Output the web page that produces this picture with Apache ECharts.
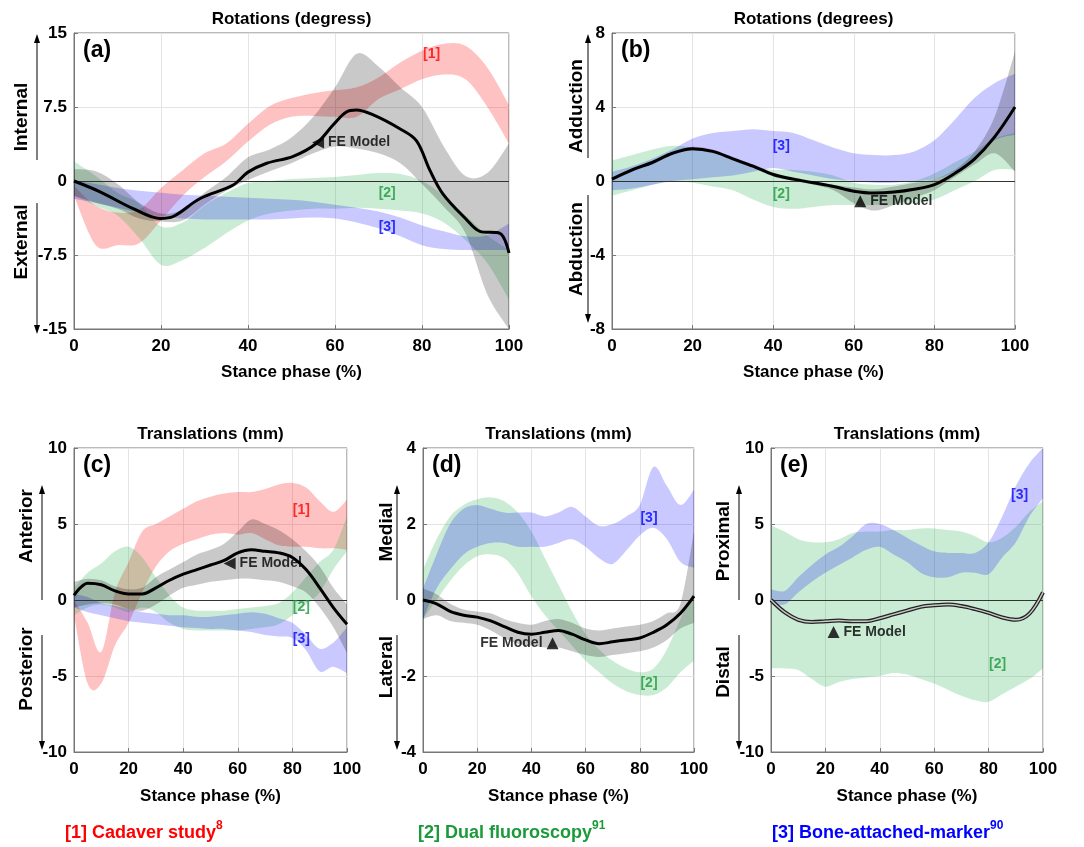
<!DOCTYPE html>
<html>
<head>
<meta charset="utf-8">
<script src="https://cdn.jsdelivr.net/npm/echarts@6/dist/echarts.min.js"></script>
<style>
  html, body { margin: 0; padding: 0; background: #fff; }
  #chart { width: 1084px; height: 847px; }
</style>
</head>
<body>
<div id="chart"></div>
<script>
const FONT = '"Liberation Sans", Arial, Helvetica, sans-serif';

// stance phase samples shared by the bands
const X = [0, 5, 10, 15, 20, 25, 30, 35, 40, 45, 50, 55, 60, 65, 70, 75, 80, 85, 90, 95, 100];

// (a) internal / external rotation
const A_RED_LO = [-1.5, -6.5, -6.5, -6.3, -4.0, -1.5, 0.4, 2.0, 4.0, 5.7, 6.5, 6.6, 6.5, 6.5, 8.3, 9.3, 10.3, 10.8, 10.3, 7.5, 3.8];
const A_RED_HI = [-0.5, -2.5, -3.2, -2.9, -0.7, 1.1, 2.8, 3.8, 5.8, 7.6, 8.4, 8.9, 9.2, 9.5, 10.5, 12.0, 13.2, 13.9, 13.7, 11.5, 7.7];
const A_GRN_LO = [-1.5, -2.5, -3.5, -5.8, -8.5, -8.0, -6.8, -5.3, -4.0, -3.3, -3.0, -2.8, -2.8, -2.7, -2.8, -3.0, -3.3, -4.2, -6.0, -8.3, -12.0];
const A_GRN_HI = [2.0, 0.5, -1.2, -2.3, -4.6, -4.2, -2.5, -1.2, -0.2, 0.0, 0.2, 0.3, 0.4, 0.6, 0.8, 0.7, 0.0, -1.5, -3.5, -5.5, -7.0];
const A_BLU_LO = [-1.8, -2.2, -2.7, -3.2, -3.6, -3.8, -3.9, -3.9, -3.9, -3.9, -3.8, -3.7, -3.8, -4.2, -4.8, -5.6, -6.5, -6.9, -7.0, -7.0, -7.0];
const A_BLU_HI = [0.1, -0.3, -0.7, -1.0, -1.2, -1.4, -1.5, -1.6, -1.7, -1.8, -1.9, -2.1, -2.4, -2.7, -3.1, -3.7, -4.5, -5.1, -5.6, -5.5, -4.3];
const A_FE_LO = [-1.5, -2.2, -2.8, -3.8, -4.1, -4.0, -2.4, -1.0, 0.1, 1.0, 1.8, 2.8, 3.5, 3.3, 2.8, 1.8, -0.3, -2.6, -5.3, -11.5, -15.0];
const A_FE_HI = [1.2, 1.0, -0.3, -2.2, -3.3, -2.9, -1.2, 0.4, 2.4, 3.2, 4.4, 6.5, 9.5, 12.9, 11.6, 9.5, 7.5, 3.5, 0.5, 0.8, 3.8];
const A_FE_X = [0, 6, 13.6, 19.8, 22.8, 28.9, 36.6, 40, 44.3, 50.4, 55.7, 59.6, 62.6, 64.9, 68.8, 74.9, 78.7, 81.8, 84.8, 90.2, 93.3, 97.9, 100];
const A_FE = [0, -1.1, -2.8, -3.8, -3.6, -1.8, -0.4, 0.9, 1.8, 2.5, 3.8, 5.7, 7.0, 7.2, 6.7, 5.3, 4.1, 1.1, -1.3, -3.9, -5.1, -5.3, -7.3];

// (b) adduction / abduction
const B_GRN_LO = [-0.8, -0.5, -0.2, 0.0, -0.1, -0.3, -0.5, -1.0, -1.4, -1.5, -1.4, -1.3, -1.3, -1.3, -1.3, -1.2, -1.0, -0.5, 0.0, 0.6, 0.6];
const B_GRN_HI = [1.1, 1.4, 1.7, 1.9, 1.8, 1.5, 1.1, 0.8, 0.6, 0.6, 0.5, 0.3, -0.1, -0.2, -0.2, 0.0, 0.4, 1.0, 1.6, 2.3, 2.6];
const B_BLU_LO = [-0.5, -0.4, -0.2, 0.0, 0.1, 0.2, 0.3, 0.5, 0.7, 0.5, 0.3, 0.1, 0.0, -0.1, -0.1, 0.0, 0.1, 0.5, 1.2, 2.2, 2.5];
const B_BLU_HI = [0.5, 0.8, 1.2, 1.7, 2.3, 2.6, 2.7, 2.8, 2.7, 2.6, 2.2, 1.8, 1.5, 1.4, 1.4, 1.6, 2.2, 3.3, 4.5, 5.3, 5.8];
const B_FE_LO = [0.0, 0.5, 0.9, 1.4, 1.65, 1.5, 1.1, 0.7, 0.25, 0.0, -0.2, -0.5, -1.2, -1.6, -1.3, -0.9, -0.5, 0.2, 0.9, 1.5, 0.5];
const B_FE_HI = [0.2, 0.7, 1.1, 1.6, 1.85, 1.7, 1.3, 0.9, 0.45, 0.2, 0.0, -0.2, -0.35, -0.45, -0.3, -0.1, 0.1, 0.6, 1.6, 3.5, 7.0];
const B_FE = [0.1, 0.6, 1.0, 1.5, 1.75, 1.6, 1.2, 0.8, 0.35, 0.1, -0.1, -0.3, -0.55, -0.65, -0.6, -0.45, -0.2, 0.4, 1.2, 2.4, 4.0];

// (c) anterior / posterior translation
const C_RED_LO = [-1.0, -5.5, -5.5, -3.0, -1.5, 0.5, 2.2, 3.2, 3.7, 4.0, 4.3, 4.4, 4.3, 4.4, 4.0, 3.6, 3.5, 3.5, 3.4, 3.4, 3.3];
const C_RED_HI = [0.0, -1.5, -3.4, 0.5, 2.5, 4.5, 5.0, 5.5, 6.0, 6.5, 6.8, 7.0, 7.1, 7.1, 7.3, 7.6, 7.7, 7.4, 6.5, 5.8, 6.6];
const C_GRN_LO = [-1.0, -0.5, -0.3, -0.5, -0.8, -0.5, -0.8, -1.5, -1.9, -2.0, -2.0, -2.0, -2.0, -1.9, -1.8, -1.6, -1.0, -0.3, 0.5, 2.0, 3.2];
const C_GRN_HI = [0.8, 1.8, 2.4, 3.2, 3.5, 2.8, 1.5, 0.3, -0.5, -0.7, -0.7, -0.7, -0.6, -0.5, -0.4, -0.2, 0.5, 1.5, 2.5, 3.3, 5.5];
const C_BLU_LO = [-0.5, -0.8, -1.0, -1.2, -1.4, -1.5, -1.6, -1.7, -1.8, -1.85, -1.9, -1.9, -2.0, -2.1, -2.3, -2.4, -2.5, -3.3, -4.7, -4.4, -4.8];
const C_BLU_HI = [0.4, 0.2, -0.2, -0.4, -0.6, -0.8, -0.9, -1.0, -1.0, -1.1, -1.1, -1.0, -0.9, -0.8, -0.9, -1.2, -1.5, -2.3, -3.2, -2.8, -1.8];
const C_FE_LO = [-0.5, -0.3, -0.2, -0.3, -0.6, -0.7, -0.3, 0.3, 0.8, 1.0, 1.2, 1.3, 1.4, 1.4, 1.3, 1.2, 0.9, 0.5, -0.5, -1.8, -3.5];
const C_FE_HI = [1.2, 1.4, 1.3, 0.9, 0.7, 0.8, 1.5, 2.0, 2.5, 3.0, 3.3, 3.7, 4.5, 5.3, 5.0, 4.6, 4.0, 3.2, 2.2, 0.8, -0.3];
const C_FE = [0.3, 1.1, 1.0, 0.6, 0.4, 0.4, 0.8, 1.3, 1.7, 2.0, 2.3, 2.6, 3.1, 3.3, 3.2, 3.1, 2.8, 2.0, 0.8, -0.5, -1.6];

// (d) medial / lateral translation
const D_GRN_LO = [-0.5, 0.0, 0.5, 0.9, 1.15, 1.2, 1.1, 0.7, 0.1, -0.4, -0.8, -1.2, -1.6, -1.9, -2.2, -2.4, -2.5, -2.5, -2.3, -1.9, -1.6];
const D_GRN_HI = [0.8, 1.6, 2.2, 2.5, 2.65, 2.7, 2.6, 2.3, 1.8, 1.1, 0.4, -0.3, -0.9, -1.3, -1.6, -1.8, -1.9, -1.8, -1.3, -0.5, 0.2];
const D_BLU_LO = [-0.5, 0.3, 0.8, 1.2, 1.4, 1.5, 1.5, 1.4, 1.4, 1.4, 1.5, 1.6, 1.4, 1.1, 0.95, 1.3, 1.7, 1.9, 1.6, 1.0, 0.85];
const D_BLU_HI = [0.3, 1.2, 2.0, 2.4, 2.5, 2.4, 2.3, 2.3, 2.3, 2.2, 2.3, 2.45, 2.2, 1.95, 2.0, 2.2, 2.5, 3.5, 3.0, 2.5, 2.9];
const D_FE_LO = [-0.5, -0.4, -0.55, -0.6, -0.65, -0.8, -1.0, -1.15, -1.2, -1.25, -1.25, -1.35, -1.45, -1.5, -1.45, -1.4, -1.35, -1.25, -1.05, -0.75, -0.6];
const D_FE_HI = [0.3, 0.15, -0.1, -0.25, -0.3, -0.35, -0.5, -0.6, -0.65, -0.55, -0.5, -0.6, -0.75, -0.8, -0.75, -0.7, -0.65, -0.55, -0.35, -0.1, 1.8];
const D_FE = [0.0, -0.1, -0.3, -0.4, -0.45, -0.55, -0.7, -0.85, -0.9, -0.85, -0.8, -0.9, -1.05, -1.15, -1.1, -1.05, -1.0, -0.85, -0.65, -0.35, 0.1];

// (e) proximal / distal translation
const E_GRN_LO = [-4.5, -4.5, -4.6, -5.2, -5.7, -5.4, -5.2, -5.1, -5.0, -4.8, -4.9, -5.2, -5.5, -5.9, -6.3, -6.6, -6.7, -6.2, -5.7, -5.2, -4.5];
const E_GRN_HI = [4.9, 4.5, 4.0, 3.8, 3.8, 4.0, 4.4, 4.5, 4.5, 4.6, 4.6, 4.7, 4.7, 4.6, 4.5, 4.2, 3.8, 4.1, 4.8, 5.8, 6.5];
const E_BLU_LO = [-0.2, -0.3, 0.5, 1.2, 1.8, 2.3, 2.8, 3.3, 3.5, 3.0, 2.5, 1.8, 1.5, 1.5, 1.8, 1.8, 1.7, 2.8, 3.8, 5.5, 6.7];
const E_BLU_HI = [0.7, 0.6, 1.5, 2.3, 3.0, 3.5, 4.2, 5.0, 5.0, 4.6, 4.1, 3.6, 3.2, 3.1, 3.1, 3.1, 3.8, 5.5, 7.5, 9.0, 10.0];
const E_FE = [0.0, -0.8, -1.3, -1.45, -1.4, -1.35, -1.4, -1.4, -1.2, -0.95, -0.7, -0.45, -0.35, -0.3, -0.4, -0.6, -0.85, -1.15, -1.3, -0.9, 0.5];

const RED = 'rgba(255,0,0,0.24)';
const GRN = 'rgba(20,170,60,0.22)';
const BLU = 'rgba(0,0,255,0.21)';
const GRY = 'rgba(0,0,0,0.21)';

const grids = [
  { left: 74, top: 33, width: 435, height: 296 },
  { left: 612, top: 33, width: 403, height: 296 },
  { left: 74, top: 448, width: 273, height: 304 },
  { left: 423, top: 448, width: 271, height: 304 },
  { left: 771, top: 448, width: 272, height: 304 }
];
const yRanges = [[-15, 15, 7.5], [-8, 8, 4], [-10, 10, 5], [-4, 4, 2], [-10, 10, 5]];
const titles = ['Rotations (degress)', 'Rotations (degrees)', 'Translations (mm)', 'Translations (mm)', 'Translations (mm)'];
const letters = ['(a)', '(b)', '(c)', '(d)', '(e)'];

// catmull-rom through pixel points, as bezier path commands
function curve(p, first) {
  let d = first ? 'M' + p[0][0] + ' ' + p[0][1] : 'L' + p[0][0] + ' ' + p[0][1];
  for (let i = 0; i < p.length - 1; i++) {
    const a = p[Math.max(i - 1, 0)], b = p[i], c = p[i + 1], e = p[Math.min(i + 2, p.length - 1)];
    const c1 = [b[0] + (c[0] - a[0]) / 6, b[1] + (c[1] - a[1]) / 6];
    const c2 = [c[0] - (e[0] - b[0]) / 6, c[1] - (e[1] - b[1]) / 6];
    d += ' C' + c1[0] + ' ' + c1[1] + ' ' + c2[0] + ' ' + c2[1] + ' ' + c[0] + ' ' + c[1];
  }
  return d;
}

function band(gi, lo, hi, color) {
  return {
    type: 'custom', xAxisIndex: gi, yAxisIndex: gi, clip: true, silent: true,
    data: X.map((x, i) => [x, lo[i], hi[i]]),
    renderItem: function (params, api) {
      if (params.dataIndex !== 0) return;
      const top = X.map((x, i) => api.coord([x, hi[i]]));
      const bot = X.map((x, i) => api.coord([x, lo[i]])).reverse();
      return { type: 'path', shape: { pathData: curve(top, true) + ' ' + curve(bot, false) + ' Z' },
        style: { fill: color, stroke: null } };
    }
  };
}
function meanLine(gi, xs, ys, extra) {
  return Object.assign({
    type: 'line', xAxisIndex: gi, yAxisIndex: gi, data: xs.map((x, i) => [x, ys[i]]),
    symbol: 'none', smooth: 0.35, silent: true, z: 5,
    lineStyle: { color: '#000', width: 3 }
  }, extra || {});
}
function zeroLine(gi) {
  return {
    type: 'line', xAxisIndex: gi, yAxisIndex: gi, data: [], silent: true, z: 4,
    markLine: { silent: true, symbol: 'none', label: { show: false },
      lineStyle: { color: '#333', width: 1.2, type: 'solid' }, data: [{ yAxis: 0 }] }
  };
}
function tag(gi, pt, text, color) {
  return {
    type: 'scatter', xAxisIndex: gi, yAxisIndex: gi, data: [pt], symbolSize: 0, silent: true, z: 6,
    label: { show: true, position: 'inside', formatter: text, color: color,
      fontFamily: FONT, fontSize: 14, fontWeight: 'bold' }
  };
}
function feTag(gi, pt, rot, pos) {
  return {
    type: 'scatter', xAxisIndex: gi, yAxisIndex: gi, data: [pt], symbol: 'triangle',
    symbolSize: 12, symbolRotate: rot, silent: true, z: 6, itemStyle: { color: '#000' },
    label: { show: true, position: pos, distance: 4, formatter: 'FE Model', color: '#000',
      fontFamily: FONT, fontSize: 14, fontWeight: 'bold' }
  };
}

const series = [
  band(0, A_RED_LO, A_RED_HI, RED),
  band(0, A_GRN_LO, A_GRN_HI, GRN),
  band(0, A_BLU_LO, A_BLU_HI, BLU),
  band(0, A_FE_LO, A_FE_HI, GRY),
  zeroLine(0), meanLine(0, A_FE_X, A_FE),
  tag(0, [82.2, 12.9], '[1]', '#ff0000'), tag(0, [72, -1.2], '[2]', '#1a9a3a'), tag(0, [72, -4.7], '[3]', '#0000ff'),
  feTag(0, [56.1, 3.9], 90, 'right'),

  band(1, B_GRN_LO, B_GRN_HI, GRN),
  band(1, B_BLU_LO, B_BLU_HI, BLU),
  band(1, B_FE_LO, B_FE_HI, GRY),
  zeroLine(1), meanLine(1, X, B_FE),
  tag(1, [42, 1.9], '[3]', '#0000ff'), tag(1, [42, -0.7], '[2]', '#1a9a3a'),
  feTag(1, [61.6, -1.1], 0, 'right'),

  band(2, C_RED_LO, C_RED_HI, RED),
  band(2, C_GRN_LO, C_GRN_HI, GRN),
  band(2, C_BLU_LO, C_BLU_HI, BLU),
  band(2, C_FE_LO, C_FE_HI, GRY),
  zeroLine(2), meanLine(2, X, C_FE),
  tag(2, [83.3, 5.9], '[1]', '#ff0000'), tag(2, [83.3, -0.45], '[2]', '#1a9a3a'), tag(2, [83.3, -2.6], '[3]', '#0000ff'),
  feTag(2, [57, 2.4], 90, 'right'),

  band(3, D_GRN_LO, D_GRN_HI, GRN),
  band(3, D_BLU_LO, D_BLU_HI, BLU),
  band(3, D_FE_LO, D_FE_HI, GRY),
  zeroLine(3), meanLine(3, X, D_FE),
  tag(3, [83.4, 2.15], '[3]', '#0000ff'), tag(3, [83.4, -2.18], '[2]', '#1a9a3a'),
  feTag(3, [47.8, -1.14], 0, 'left'),

  band(4, E_GRN_LO, E_GRN_HI, GRN),
  band(4, E_BLU_LO, E_BLU_HI, BLU),
  zeroLine(4),
  meanLine(4, X, E_FE, { lineStyle: { color: '#222', width: 4 } }),
  meanLine(4, X, E_FE, { z: 6, lineStyle: { color: '#c8c8c8', width: 1.4 } }),
  tag(4, [91.4, 6.9], '[3]', '#0000ff'), tag(4, [83.3, -4.2], '[2]', '#1a9a3a'),
  feTag(4, [23, -2.1], 0, 'right')
];

const labelStyle = { color: '#000', fontFamily: FONT, fontSize: 17, fontWeight: 'bold' };
const xAxis = grids.map((g, i) => ({
  type: 'value', gridIndex: i, min: 0, max: 100, interval: 20,
  axisLine: { show: true, onZero: false, lineStyle: { color: '#777' } },
  axisTick: { show: true, inside: true, length: 4, lineStyle: { color: '#777' } },
  axisLabel: Object.assign({ margin: 9 }, labelStyle),
  splitLine: { show: true, lineStyle: { color: '#e4e4e4' } },
  name: 'Stance phase (%)', nameLocation: 'middle', nameGap: i < 2 ? 35 : 36,
  nameTextStyle: labelStyle
}));
const yAxis = yRanges.map((r, i) => ({
  type: 'value', gridIndex: i, min: r[0], max: r[1], interval: r[2],
  axisLine: { show: true, onZero: false, lineStyle: { color: '#777' } },
  axisTick: { show: true, inside: true, length: 4, lineStyle: { color: '#777' } },
  axisLabel: Object.assign({ margin: 7 }, labelStyle),
  splitLine: { show: true, lineStyle: { color: '#e4e4e4' } }
}));

const graphic = [];
grids.forEach((g, i) => {
  graphic.push({ type: 'text', x: g.left + g.width / 2, y: g.top - 14,
    style: { text: titles[i], align: 'center', verticalAlign: 'middle', textAlign: 'center', textVerticalAlign: 'middle',
      fill: '#000', font: 'bold 17px ' + FONT } });
  graphic.push({ type: 'text', x: g.left + 9, y: g.top + 18, z: 10,
    style: { text: letters[i], align: 'left', verticalAlign: 'middle', textAlign: 'left', textVerticalAlign: 'middle',
      fill: '#000', font: 'bold 23px ' + FONT } });
});

// side direction labels with arrows
const sides = [
  { x: 22, ax: 37, up: ['Internal', 117, 160, 34], dn: ['External', 242, 203, 334] },
  { x: 577, ax: 588, up: ['Adduction', 106, 158, 34], dn: ['Abduction', 249, 195, 323] },
  { x: 27, ax: 42, up: ['Anterior', 526, 600, 485], dn: ['Posterior', 669, 635, 750] },
  { x: 387, ax: 397, up: ['Medial', 532, 600, 485], dn: ['Lateral', 667, 635, 750] },
  { x: 724, ax: 739, up: ['Proximal', 541, 600, 485], dn: ['Distal', 672, 635, 750] }
];
function arrow(x, y0, y1) {
  const d = y1 < y0 ? 1 : -1;
  graphic.push({ type: 'line', shape: { x1: x, y1: y0, x2: x, y2: y1 + d * 6 }, style: { stroke: '#000', lineWidth: 1 } });
  graphic.push({ type: 'polygon', shape: { points: [[x, y1], [x - 3, y1 + d * 9], [x + 3, y1 + d * 9]] }, style: { fill: '#000' } });
}
sides.forEach(s => {
  [s.up, s.dn].forEach(t => {
    graphic.push({ type: 'text', x: s.x, y: t[1], rotation: Math.PI / 2,
      style: { text: t[0], align: 'center', verticalAlign: 'middle', textAlign: 'center', textVerticalAlign: 'middle',
        fill: '#000', font: 'bold 19px ' + FONT } });
    arrow(s.ax, t[2], t[3]);
  });
});

// study legend along the bottom
const legend = [
  { x: 65, color: '#ff0000', text: '[1] Cadaver study', sup: '8' },
  { x: 418, color: '#1a9a3a', text: '[2] Dual fluoroscopy', sup: '91' },
  { x: 772, color: '#0000ff', text: '[3] Bone-attached-marker', sup: '90' }
];
legend.forEach(l => {
  graphic.push({ type: 'text', x: l.x, y: 833,
    style: { text: '{m|' + l.text + '}{s|' + l.sup + '}', align: 'left', verticalAlign: 'middle',
      textAlign: 'left', textVerticalAlign: 'middle',
      rich: {
        m: { fontFamily: FONT, fontSize: 18, fontWeight: 'bold', fill: l.color, color: l.color },
        s: { fontFamily: FONT, fontSize: 12, fontWeight: 'bold', fill: l.color, color: l.color, padding: [0, 0, 14, 0] }
      } } });
});

const chart = echarts.init(document.getElementById('chart'), null, { renderer: 'canvas' });
chart.setOption({
  backgroundColor: '#fff',
  animation: false,
  grid: grids.map(g => Object.assign({ show: true, borderColor: '#777', borderWidth: 1, containLabel: false }, g)),
  xAxis: xAxis,
  yAxis: yAxis,
  series: series,
  graphic: graphic
});
</script>
</body>
</html>
